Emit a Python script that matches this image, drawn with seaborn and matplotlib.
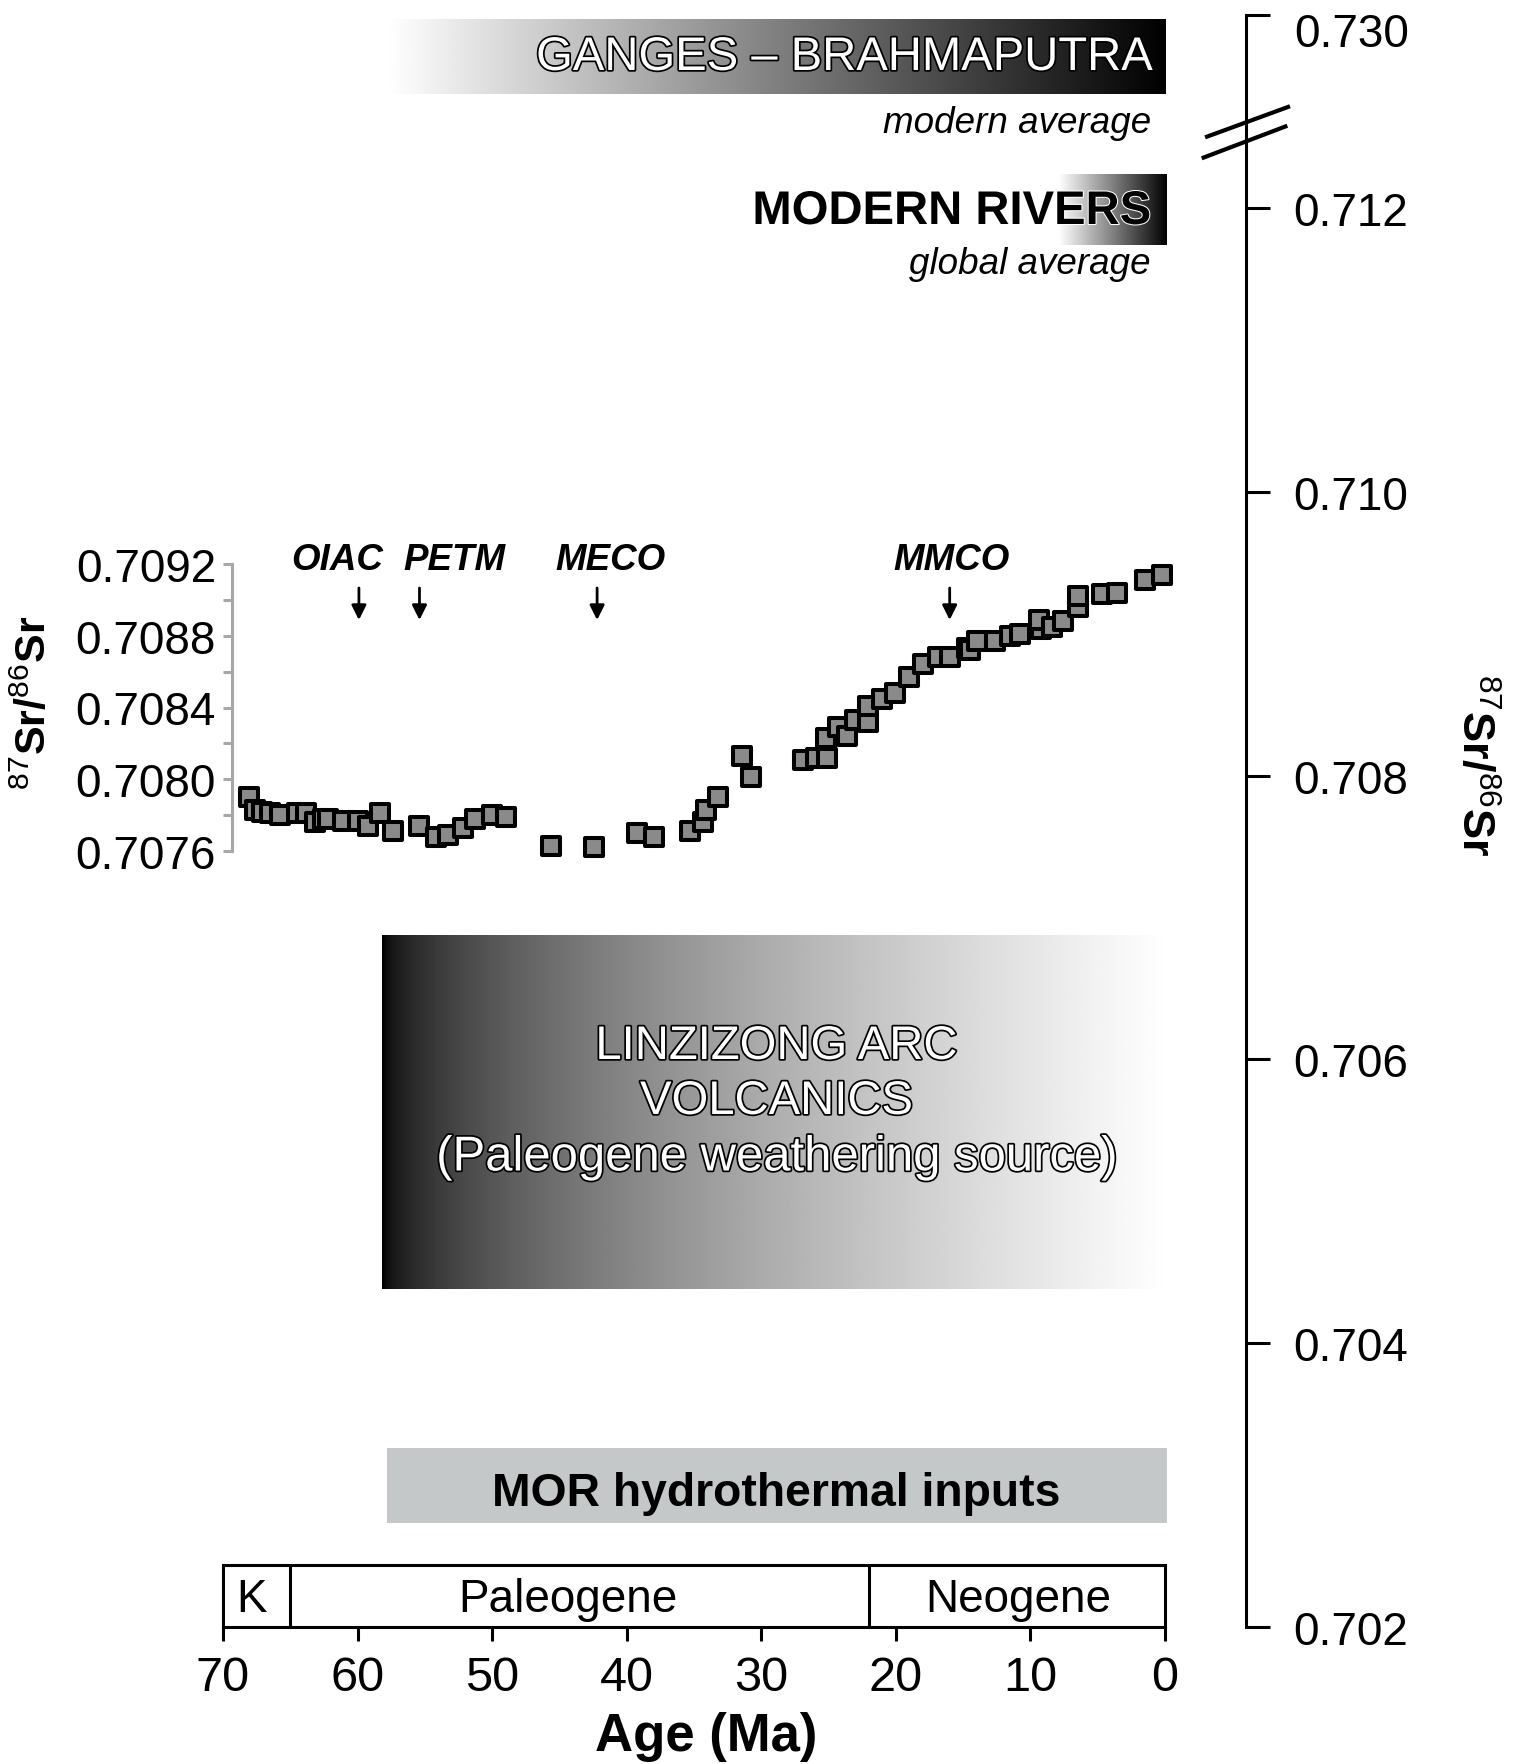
import numpy as np
import pandas as pd
import matplotlib
matplotlib.use("Agg")
import matplotlib.pyplot as plt
import matplotlib.patheffects as pe
import matplotlib.transforms as mtransforms
from matplotlib.ticker import NullLocator, FixedLocator
import seaborn as sns

# ---------------- data ----------------
age_ma = [68.1, 67.6, 67.1, 66.5, 65.8, 64.5, 63.8, 63.2, 62.6, 62.2, 61.1, 60.0,
          59.2, 58.3, 57.4, 55.4, 54.2, 53.3, 52.2, 51.3, 50.0, 49.0,
          45.6, 42.4, 39.2, 38.0, 35.3, 34.3, 34.1, 33.2, 31.4, 30.8,
          26.9, 25.9, 25.1, 25.2, 24.3, 23.6, 23.0, 22.1, 22.1, 21.0, 20.1,
          19.0, 18.0, 16.9, 16.0, 14.7, 14.5, 14.0, 12.6, 11.5, 10.8, 9.2,
          9.4, 8.4, 7.6, 6.5, 6.5, 4.7, 3.6, 1.5, 0.2]
sr87_86 = [0.70790, 0.70783, 0.70782, 0.70781, 0.70780, 0.70781, 0.70781, 0.70776,
           0.70778, 0.70778, 0.70777, 0.70777, 0.70774, 0.70781, 0.70771, 0.70774,
           0.70768, 0.70769, 0.70773, 0.70778, 0.70780, 0.70779,
           0.70763, 0.70762, 0.70770, 0.70768, 0.70771, 0.70776, 0.70783, 0.70790,
           0.70813, 0.70801,
           0.70811, 0.70812, 0.70812, 0.70823, 0.70829, 0.70824, 0.70833, 0.70832,
           0.70841, 0.70845, 0.70848, 0.70857, 0.70864, 0.70868, 0.70868, 0.70873,
           0.70872, 0.70877, 0.70877, 0.70880, 0.70881, 0.70884, 0.70889, 0.70885,
           0.70888, 0.70896, 0.70902, 0.70903, 0.70904, 0.70911, 0.70914]

event_names = ["OIAC", "PETM", "MECO", "MMCO"]
event_ages = [59.9, 55.4, 42.2, 16.0]

period_names = ["K", "Paleogene", "Neogene"]
period_edges = [70, 65, 22, 0]

age_ticks = [70, 60, 50, 40, 30, 20, 10, 0]
right_ticks = [0.702, 0.704, 0.706, 0.708, 0.710, 0.712, 0.730]
right_ticklabels = ["0.702", "0.704", "0.706", "0.708", "0.710", "0.712", "0.730"]
inner_ticks = [0.7076, 0.7080, 0.7084, 0.7088, 0.7092]
inner_minor = [0.7078, 0.7082, 0.7086, 0.7090]
inner_ticklabels = ["0.7076", "0.7080", "0.7084", "0.7088", "0.7092"]

# Sr reservoirs (age span, Sr span)
ganges_age, ganges_sr = [57.8, -0.15], [0.7226, 0.7296]
rivers_age, rivers_sr = [7.95, -0.15], [0.71174, 0.71523]
linz_age, linz_sr = [58.2, -0.15], [0.70438, 0.70688]
mor_age, mor_sr = [57.8, -0.15], [0.70273, 0.70326]

df = pd.DataFrame({"age": age_ma, "sr": sr87_86})

# ---------------- style ----------------
sns.set_theme(style="ticks")
plt.rcParams["font.family"] = ["Liberation Sans", "DejaVu Sans"]
plt.rcParams["mathtext.fontset"] = "custom"
plt.rcParams["mathtext.rm"] = "Liberation Sans"
plt.rcParams["mathtext.bf"] = "Liberation Sans:bold"
plt.rcParams["mathtext.it"] = "Liberation Sans:italic"

W, H = 1517, 1765
fig = plt.figure(figsize=(W / 100, H / 100), dpi=100)
fig.patch.set_facecolor("white")


def rect(x0, y0, x1, y1):
    return [x0 / W, 1 - y1 / H, (x1 - x0) / W, (y1 - y0) / H]


def fx(x):
    return x / W


def fy(y):
    return 1 - y / H


PX_PER_MA = (1165 - 223) / 70.0
LW = 2.2

# ---------------- main (right) axis with break ----------------
BREAK = 0.712
KCOMP = 0.0756


def fwd(y):
    y = np.asarray(y, dtype=float)
    return np.where(y <= BREAK, y, BREAK + (y - BREAK) * KCOMP)


def inv(y):
    y = np.asarray(y, dtype=float)
    return np.where(y <= BREAK, y, BREAK + (y - BREAK) / KCOMP)


ax = fig.add_axes(rect(223, 16, 1246, 1628))
ax.set_facecolor("none")
ax.set_yscale("function", functions=(fwd, inv))
xlim_main = (70, -(1246 - 1165) / PX_PER_MA)

grad = np.linspace(0, 1, 400)[None, :]
ax.imshow(1 - grad, extent=[ganges_age[0], ganges_age[1], ganges_sr[0], ganges_sr[1]],
          cmap="gray", vmin=0, vmax=1, aspect="auto", interpolation="bilinear", zorder=1)
ax.imshow(1 - grad, extent=[rivers_age[0], rivers_age[1], rivers_sr[0], rivers_sr[1]],
          cmap="gray", vmin=0, vmax=1, aspect="auto", interpolation="bilinear", zorder=1)
ax.imshow(grad ** 0.55, extent=[linz_age[0], linz_age[1], linz_sr[0], linz_sr[1]],
          cmap="gray", vmin=0, vmax=1, aspect="auto", interpolation="bilinear", zorder=1)
ax.fill_between(mor_age, mor_sr[0], mor_sr[1], color="#c5c8c8", lw=0, zorder=1)

ax.set_xlim(*xlim_main)
ax.set_ylim(0.702, 0.730)
ax.set_aspect("auto")
for s in ["left", "top", "bottom"]:
    ax.spines[s].set_visible(False)
ax.spines["right"].set_color("black")
ax.spines["right"].set_linewidth(LW)
ax.set_xticks([])
ax.yaxis.set_major_locator(FixedLocator(right_ticks))
ax.yaxis.set_minor_locator(NullLocator())
# top label (0.730) sits a little below its tick in the reference -> drawn separately
ax.set_yticklabels(right_ticklabels[:-1] + [""])
ax.tick_params(axis="y", which="major", left=False, right=True, labelleft=False,
               labelright=True, direction="out", length=17, width=LW, color="black",
               labelsize=33, pad=17, labelcolor="black")
ax.grid(False)
fig.text(fx(1294), fy(30), right_ticklabels[-1], ha="left", va="center_baseline",
         fontsize=33, color="black")

# axis break marks
for (xa, ya, xb, yb) in [(0.960, 0.9241, 1.043, 0.9434), (0.9567, 0.9111, 1.0404, 0.9313)]:
    ax.plot([xa, xb], [ya, yb], transform=ax.transAxes, color="black", lw=3,
            clip_on=False, solid_capstyle="butt", zorder=5)

# ---------------- inner Sr record axis ----------------
axi = fig.add_axes(rect(223, 565, 1165, 852))
axi.set_facecolor("none")
sns.scatterplot(data=df, x="age", y="sr", ax=axi, marker="s", s=160,
                color="#8a8a8a", edgecolor="black", linewidth=2.9,
                clip_on=False, legend=False, zorder=4)
axi.set_xlim(70, 0)
axi.set_ylim(0.7076, 0.7092)
axi.set_xlabel("")
axi.set_ylabel("")
for s in ["right", "top", "bottom"]:
    axi.spines[s].set_visible(False)
axi.spines["left"].set_position(("data", 70 - 9 / PX_PER_MA))
axi.spines["left"].set_color("#a8a8a8")
axi.spines["left"].set_linewidth(LW)
axi.set_xticks([])
axi.yaxis.set_major_locator(FixedLocator(inner_ticks))
axi.yaxis.set_minor_locator(FixedLocator(inner_minor))
axi.set_yticklabels(inner_ticklabels)
axi.tick_params(axis="y", which="both", left=True, right=False, direction="out",
                length=6.5, width=LW, color="#a8a8a8")
axi.tick_params(axis="y", which="major", labelsize=33, pad=5, labelcolor="black")
axi.grid(False)

blend = mtransforms.blended_transform_factory(axi.transData, fig.transFigure)
label_px = [337.6, 454.7, 610.0, 952.0]
for name, a, lx in zip(event_names, event_ages, label_px):
    fig.text(fx(lx), fy(561), name, ha="center", va="center", fontsize=26.5,
             fontweight="bold", fontstyle="italic", color="black")
    axi.annotate("", xy=(a, fy(621)), xycoords=blend, xytext=(a, fy(589)),
                 textcoords=blend,
                 arrowprops=dict(arrowstyle="-|>", color="black", lw=2,
                                 mutation_scale=22, shrinkA=0, shrinkB=0))

# ---------------- time scale ----------------
axt = fig.add_axes(rect(223, 1566, 1165, 1628))
axt.set_xlim(70, 0)
axt.set_ylim(0, 1)
axt.set_facecolor("white")
for s in axt.spines.values():
    s.set_visible(True)
    s.set_color("black")
    s.set_linewidth(LW)
for b in period_edges[1:-1]:
    axt.axvline(b, color="black", lw=LW)
axt.set_yticks([])
axt.set_xticks(age_ticks)
axt.set_xticklabels([str(t) for t in age_ticks])
axt.tick_params(axis="x", bottom=True, direction="out", length=10, width=LW,
                color="black", labelsize=35, pad=10, labelcolor="black")
axt.set_xlabel("Age (Ma)", fontsize=38, fontweight="bold", color="black")
axt.xaxis.label.set_va("center")
axt.xaxis.set_label_coords((706 - 223) / 942, (1628 - 1737) / 62)
period_label_px = [252, 568, 1018.5]
for name, lx in zip(period_names, period_label_px):
    fig.text(fx(lx), fy(1611.6), name, ha="center", va="baseline", fontsize=33,
             color="black")

# ---------------- reservoir labels ----------------
outline = [pe.withStroke(linewidth=2.5, foreground="black")]
fig.text(fx(1153), fy(71), "GANGES \u2013 BRAHMAPUTRA", ha="right", va="baseline",
         fontsize=34, color="white", path_effects=outline)
fig.text(fx(1151), fy(133), "modern average", ha="right", va="baseline",
         fontsize=26.5, fontstyle="italic", color="black")
fig.text(fx(1151), fy(225), "MODERN RIVERS", ha="right", va="baseline",
         fontsize=34, fontweight="bold", color="black",
         path_effects=[pe.withStroke(linewidth=1.5, foreground="white")])
fig.text(fx(1151), fy(273.5), "global average", ha="right", va="baseline",
         fontsize=26.5, fontstyle="italic", color="black")
for txt, yb, fs in [("LINZIZONG ARC", 1060, 34), ("VOLCANICS", 1115, 34),
                    ("(Paleogene weathering source)", 1171.5, 35.3)]:
    fig.text(fx(776.5), fy(yb), txt, ha="center", va="baseline", fontsize=fs,
             color="white", path_effects=outline)
fig.text(fx(776.5), fy(1506), "MOR hydrothermal inputs", ha="center", va="baseline",
         fontsize=33.3, fontweight="bold", color="black")

# axis titles
ylab = r"$^{\mathrm{87}}\mathbf{Sr/}^{\mathrm{86}}\mathbf{Sr}$"
fig.text(fx(34), fy(703), ylab, rotation=90, ha="center", va="center",
         fontsize=31, color="black")
fig.text(fx(1474), fy(765), ylab, rotation=270, ha="center", va="center",
         fontsize=32.5, color="black")

fig.savefig("out.png", dpi=100, facecolor="white")
